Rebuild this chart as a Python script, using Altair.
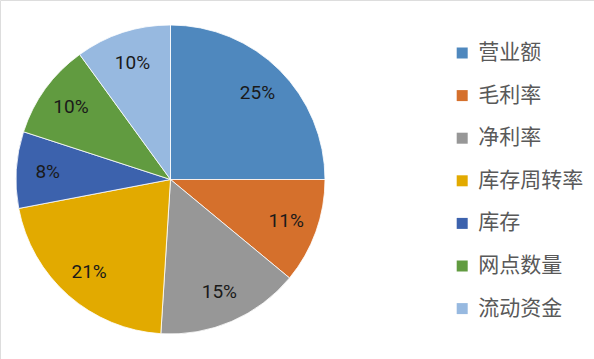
import altair as alt
import pandas as pd

categories = ["营业额", "毛利率", "净利率", "库存周转率", "库存", "网点数量", "流动资金"]
values = [25, 11, 15, 21, 8, 10, 10]
labels = ["25%", "11%", "15%", "21%", "8%", "10%", "10%"]
colors = ["#4F88BE", "#D5702C", "#979797", "#E2AA00", "#3C62AD", "#619B40", "#97B9E0"]

df = pd.DataFrame({
    "cat": categories,
    "val": values,
    "lab": labels,
    "ord": list(range(len(categories))),
})

base = alt.Chart(df).encode(
    theta=alt.Theta("val:Q", stack=True),
    order=alt.Order("ord:Q", sort="ascending"),
    x=alt.value(170.5),
    y=alt.value(179.5),
)

arcs = base.mark_arc(radius=154.5, stroke="white", strokeWidth=0.8).encode(
    color=alt.Color(
        "cat:N",
        scale=alt.Scale(domain=categories, range=colors),
        sort=categories,
        legend=alt.Legend(
            title=None,
            orient="none",
            legendX=451.7,
            legendY=42.5,
            symbolType="square",
            symbolSize=121,
            symbolStrokeWidth=0,
            labelFont="Noto Sans CJK SC",
            labelFontSize=21,
            labelColor="#595959",
            labelOffset=5.5,
            rowPadding=20.6,
            padding=0,
        ),
    )
)

text = base.mark_text(radius=123, font="Roboto", fontSize=19, color="#1a1a1a").encode(
    text="lab:N"
)

chart = (arcs + text).properties(
    width=594,
    height=359,
    autosize=alt.AutoSizeParams(type="none"),
    padding=0,
).configure_view(stroke=None).configure(background="white")

chart.save("out.html", embed_options={"renderer": "svg", "actions": False})
